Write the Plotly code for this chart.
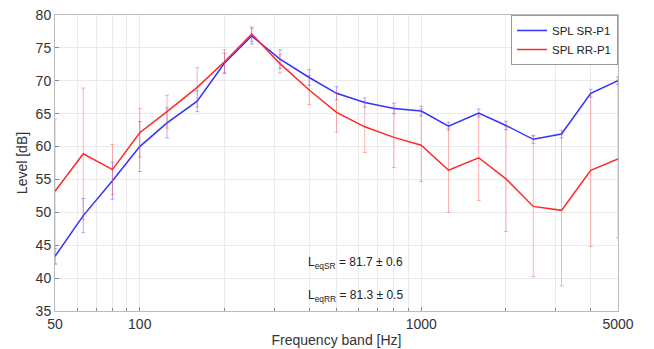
import plotly.graph_objects as go

freqs = [50, 63, 80, 100, 125, 160, 200, 250, 315, 400, 500, 630, 800, 1000,
         1250, 1600, 2000, 2500, 3150, 4000, 5000]
spl_sr = [43.3, 49.5, 54.8, 60.0, 63.6, 66.9, 72.7, 76.8, 73.3, 70.5, 68.1, 66.7,
          65.8, 65.4, 63.1, 65.1, 63.2, 61.1, 61.9, 68.1, 70.0]
err_sr = [1.2, 2.6, 2.8, 3.8, 2.3, 1.6, 1.5, 1.2, 1.4, 1.2, 1.0, 0.7, 0.8, 0.75,
          0.6, 0.6, 0.65, 0.6, 0.6, 0.6, 0.6]
spl_rr = [53.2, 58.9, 56.5, 62.1, 65.3, 69.0, 72.9, 77.1, 72.6, 68.6, 65.2, 63.0,
          61.4, 60.2, 56.4, 58.3, 55.1, 50.9, 50.3, 56.4, 58.1]
err_rr = [11.0, 10.0, 3.8, 3.7, 2.5, 3.0, 1.8, 1.1, 1.4, 2.2, 3.0, 3.9, 4.6, 5.5,
          6.4, 6.5, 8.0, 10.7, 11.5, 11.6, 12.0]
x_ticks = [50, 100, 1000, 5000]
minor_ticks = [60, 70, 80, 90, 200, 300, 400, 500, 600, 700, 800, 900,
               2000, 3000, 4000]

FONT = "Liberation Sans, Arial, sans-serif"

fig = go.Figure()
fig.add_trace(go.Scatter(
    x=freqs, y=spl_sr, mode="lines", name="SPL SR-P1",
    line=dict(color="rgb(50,50,255)", width=1.5),
    error_y=dict(type="data", array=err_sr, visible=True,
                 color="rgba(80,80,255,0.45)", thickness=1, width=2),
))
fig.add_trace(go.Scatter(
    x=freqs, y=spl_rr, mode="lines", name="SPL RR-P1",
    line=dict(color="rgb(255,40,40)", width=1.5),
    error_y=dict(type="data", array=err_rr, visible=True,
                 color="rgba(255,80,80,0.45)", thickness=1, width=2),
))

fig.add_annotation(x=0.533, y=0.162, xref="paper", yref="paper",
                   text="L<sub>eqSR</sub> = 81.7 ± 0.6", showarrow=False,
                   font=dict(size=12, color="#222"), xanchor="center",
                   yanchor="middle")
fig.add_annotation(x=0.533, y=0.05, xref="paper", yref="paper",
                   text="L<sub>eqRR</sub> = 81.3 ± 0.5", showarrow=False,
                   font=dict(size=12, color="#222"), xanchor="center",
                   yanchor="middle")

fig.update_layout(
    width=654, height=349,
    margin=dict(l=55, r=36, t=15, b=38),
    paper_bgcolor="white", plot_bgcolor="white",
    font=dict(family=FONT, size=13, color="#333"),
    showlegend=True,
    legend=dict(x=1, y=1, xanchor="right", yanchor="top",
                bgcolor="white", bordercolor="#999", borderwidth=1,
                font=dict(size=11.5, color="#222"),
                tracegroupgap=0, itemwidth=30),
    xaxis=dict(
        type="log", range=[1.69897, 3.69897], automargin=False,
        tickvals=x_ticks, ticktext=[str(v) for v in x_ticks],
        showgrid=True, gridcolor="#ebebeb", gridwidth=1,
        minor=dict(tickvals=minor_ticks, showgrid=True, gridcolor="#ebebeb",
                   ticks="inside", ticklen=3, tickcolor="#888"),
        showline=True, linecolor="#bbb", linewidth=1, mirror=True,
        ticks="inside", ticklen=4, tickcolor="#888",
        zeroline=False,
        title=dict(text="Frequency band [Hz]", standoff=4,
                   font=dict(size=14, color="#333")),
        tickfont=dict(size=14, color="#333"),
    ),
    yaxis=dict(
        range=[35, 80], dtick=5, tick0=35, automargin=False,
        showgrid=True, gridcolor="#ebebeb", gridwidth=1,
        showline=True, linecolor="#bbb", linewidth=1, mirror=True,
        ticks="inside", ticklen=4, tickcolor="#888",
        zeroline=False,
        title=dict(text="Level [dB]", standoff=4,
                   font=dict(size=14, color="#333")),
        tickfont=dict(size=14, color="#333"),
    ),
)

fig.write_html("out.html")
